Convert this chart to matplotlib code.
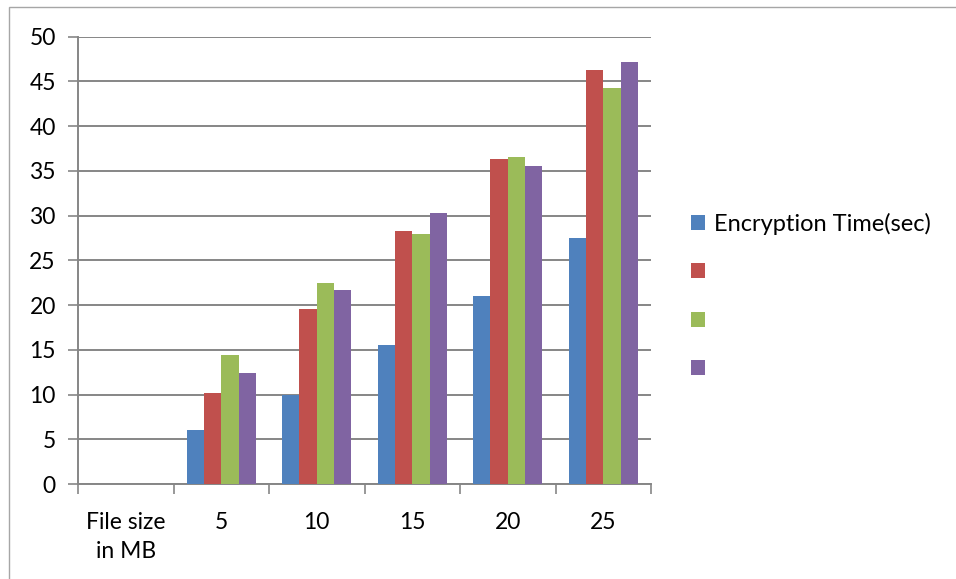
import matplotlib
matplotlib.use("Agg")
import matplotlib.pyplot as plt
import numpy as np
from matplotlib.patches import Rectangle, Patch

# Chart data
categories = ["File size\nin MB", "5", "10", "15", "20", "25"]
encryption_time = [0, 6.1, 10.0, 15.5, 21.0, 27.5]
series_b = [0, 10.2, 19.6, 28.3, 36.3, 46.3]
series_c = [0, 14.4, 22.5, 28.0, 36.6, 44.3]
series_d = [0, 12.4, 21.7, 30.3, 35.6, 47.2]
series_labels = ["Encryption Time(sec)", " ", " ", " "]
y_ticks = [0, 5, 10, 15, 20, 25, 30, 35, 40, 45, 50]

colors = ["#4F81BD", "#C0504D", "#9BBB59", "#8064A2"]
grid_col = "#868686"
FS = 16.5

plt.rcParams["font.family"] = ["Lato", "DejaVu Sans"]

W, H = 956, 579
fig = plt.figure(figsize=(W / 100, H / 100), dpi=100)
fig.patch.set_facecolor("white")

# Outer chart border
fig.add_artist(Rectangle((9 / W, -0.05), 1.1, 1 - 7 / H + 0.05,
                         transform=fig.transFigure, fill=False,
                         edgecolor="#A6A6A6", linewidth=1.0))

left, right = 78 / W, 651 / W
bottom, top = 1 - 484.2 / H, 1 - 36.7 / H
ax = fig.add_axes([left, bottom, right - left, top - bottom])

series = [encryption_time, series_b, series_c, series_d]
n = len(series)
gap = 1.5
bw = 1.0 / (n + gap)
x = np.arange(len(categories)) + 0.5
for i, vals in enumerate(series):
    offs = (i - (n - 1) / 2) * bw
    ax.bar(x + offs, vals, width=bw, color=colors[i], linewidth=0,
           zorder=3, label=series_labels[i])

ax.set_xlim(0, len(categories))
ax.set_ylim(0, 50)
ax.set_yticks(y_ticks)
ax.set_yticklabels([str(t) for t in y_ticks])
ax.yaxis.grid(True, color=grid_col, linewidth=1.4, zorder=0)
ax.set_axisbelow(True)

# category boundaries as major ticks, labels at centers as minor ticks
ax.set_xticks(np.arange(len(categories) + 1))
ax.set_xticklabels([])
ax.set_xticks(x, minor=True)
ax.set_xticklabels(categories, minor=True, fontsize=FS, linespacing=1.45,
                   va="top")
ax.tick_params(axis="x", which="minor", length=0, pad=20)
ax.tick_params(axis="x", which="major", length=7, color=grid_col,
               width=1.2, direction="out")
ax.tick_params(axis="y", length=7, color=grid_col, width=1.2,
               direction="out", labelsize=FS, pad=9)

for s in ["top", "right"]:
    ax.spines[s].set_visible(False)
for s in ["left", "bottom"]:
    ax.spines[s].set_color(grid_col)
    ax.spines[s].set_linewidth(1.4)

handles = [Patch(facecolor=c, edgecolor="none") for c in colors]
leg = ax.legend(handles, series_labels, loc="upper left",
                bbox_to_anchor=(1.07, 0.606), frameon=False, fontsize=17,
                handlelength=0.6, handleheight=0.6, handletextpad=0.35,
                labelspacing=1.15, borderpad=0, borderaxespad=0)

fig.savefig("out.png", dpi=100, facecolor="white")
